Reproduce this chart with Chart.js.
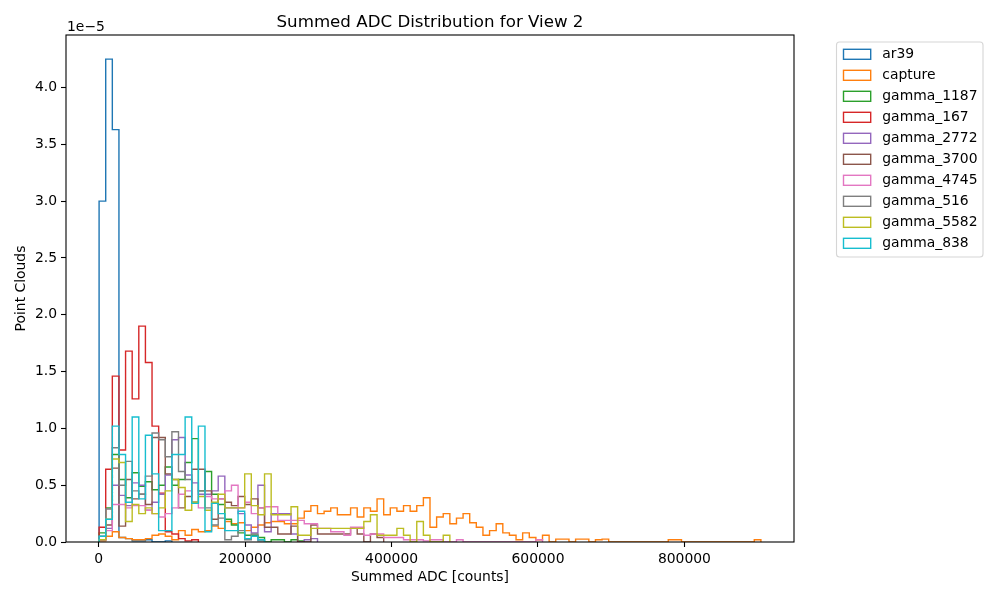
<!DOCTYPE html>
<html>
<head>
<meta charset="utf-8">
<title>Summed ADC Distribution for View 2</title>
<script src="https://cdn.jsdelivr.net/npm/chart.js@4/dist/chart.umd.min.js"></script>
<style>
  html, body { margin: 0; padding: 0; background: #fff; }
  #wrap { width: 1000px; height: 600px; }
</style>
</head>
<body>
<div id="wrap"><canvas id="graph" width="1000" height="600"></canvas></div>
<script>
// histogram bins (counts)
var binStart = 500;
var binWidth = 9040;

// series names and colours (matplotlib tab10)
var seriesNames = ['ar39', 'capture', 'gamma_1187', 'gamma_167', 'gamma_2772',
  'gamma_3700', 'gamma_4745', 'gamma_516', 'gamma_5582', 'gamma_838'];
var seriesColors = ['#1f77b4', '#ff7f0e', '#2ca02c', '#d62728', '#9467bd',
  '#8c564b', '#e377c2', '#7f7f7f', '#bcbd22', '#17becf'];

// bin heights, in units of 1e-5, bin 0 first
var ar39 = [3.00, 4.25, 3.63, 0.04, 0.03, 0.01, 0.01, 0.02, 0.00, 0.00, 0.01];

var capture = [0.01, 0.05, 0.09, 0.04, 0.03, 0.02, 0.02, 0.03, 0.06, 0.07,
  0.05, 0.02, 0.10, 0.06, 0.11, 0.09, 0.10, 0.14, 0.12, 0.18,
  0.16, 0.17, 0.10, 0.13, 0.15, 0.17, 0.18, 0.18, 0.16, 0.16,
  0.21, 0.27, 0.32, 0.25, 0.27, 0.30, 0.24, 0.24, 0.30, 0.22,
  0.30, 0.27, 0.38, 0.24, 0.30, 0.27, 0.32, 0.27, 0.32, 0.39,
  0.13, 0.22, 0.25, 0.16, 0.21, 0.25, 0.17, 0.13, 0.06, 0.10,
  0.16, 0.08, 0.06, 0.02, 0.08, 0.04, 0.02, 0.06, 0.00, 0.025,
  0.025, 0.00, 0.025, 0.025, 0.00, 0.02, 0.025, 0.00, 0.00, 0.00,
  0.00, 0.00, 0.00, 0.00, 0.00, 0.00, 0.02, 0.02, 0.00, 0.00,
  0.00, 0.00, 0.00, 0.00, 0.00, 0.00, 0.00, 0.00, 0.00, 0.02];

var gamma_1187 = [0.08, 0.30, 0.77, 0.55, 0.39, 0.61, 0.49, 0.53, 0.46, 0.50,
  0.66, 0.50, 0.55, 0.70, 0.91, 0.45, 0.62, 0.42, 0.33, 0.20,
  0.15, 0.08, 0.06, 0.06, 0.04, 0.00, 0.02, 0.02, 0.00, 0.02, 0.01];

var gamma_167 = [0.13, 0.64, 1.46, 0.81, 1.68, 1.26, 1.90, 1.58, 1.02, 0.43,
  0.09, 0.07, 0.03, 0.01, 0.02];

var gamma_2772 = [0.02, 0.12, 0.50, 0.41, 0.32, 0.52, 0.50, 0.28, 0.35, 0.42,
  0.59, 0.90, 0.92, 0.59, 0.52, 0.42, 0.42, 0.45, 0.58, 0.30,
  0.30, 0.25, 0.15, 0.08, 0.50, 0.09, 0.25, 0.25, 0.25, 0.07,
  0.00, 0.02, 0.03];

var gamma_3700 = [0.02, 0.15, 0.65, 0.14, 0.55, 0.38, 0.42, 0.33, 0.92, 0.92,
  0.60, 0.55, 0.30, 0.40, 0.64, 0.64, 0.45, 0.20, 0.38, 0.35,
  0.32, 0.40, 0.33, 0.38, 0.30, 0.13, 0.13, 0.07, 0.07, 0.14,
  0.00, 0.00, 0.15, 0.07, 0.07, 0.07, 0.07, 0.07, 0.12, 0.07,
  0.00, 0.07, 0.04];

var gamma_4745 = [0.02, 0.10, 0.33, 0.33, 0.30, 0.32, 0.32, 0.28, 0.25, 0.22,
  0.25, 0.30, 0.42, 0.45, 0.35, 0.30, 0.40, 0.38, 0.38, 0.45,
  0.50, 0.30, 0.35, 0.25, 0.30, 0.31, 0.31, 0.19, 0.19, 0.19,
  0.19, 0.16, 0.16, 0.12, 0.12, 0.09, 0.09, 0.06, 0.13, 0.13,
  0.06, 0.07, 0.07, 0.04, 0.04, 0.04, 0.02, 0.02, 0.02, 0.01,
  0.02, 0.02, 0.00, 0.00, 0.02, 0.00, 0.00, 0.00, 0.00, 0.00,
  0.00, 0.00, 0.00, 0.00, 0.00, 0.00, 0.02];

var gamma_516 = [0.05, 0.29, 0.83, 0.50, 0.71, 0.45, 0.42, 0.58, 0.96, 0.90,
  0.75, 0.97, 0.62, 0.55, 0.35, 0.45, 0.30, 0.15, 0.21, 0.02,
  0.05, 0.10, 0.02, 0.07, 0.01];

var gamma_5582 = [0.02, 0.20, 0.73, 0.70, 0.18, 0.33, 0.25, 0.30, 0.25, 0.30,
  0.45, 0.55, 0.48, 0.28, 0.35, 0.40, 0.28, 0.35, 0.42, 0.30,
  0.30, 0.30, 0.60, 0.32, 0.24, 0.60, 0.24, 0.24, 0.24, 0.31,
  0.06, 0.06, 0.12, 0.12, 0.12, 0.12, 0.12, 0.12, 0.12, 0.12,
  0.18, 0.24, 0.06, 0.06, 0.06, 0.12, 0.06, 0.00, 0.18, 0.06,
  0.00, 0.00, 0.06];

var gamma_838 = [0.05, 0.20, 1.02, 0.77, 0.35, 1.10, 0.38, 0.94, 0.60, 0.10,
  0.10, 0.77, 0.77, 1.10, 0.34, 1.02, 0.09, 0.34, 0.25, 0.10,
  0.10, 0.27, 0.03, 0.05, 0.02];

var seriesValues = [ar39, capture, gamma_1187, gamma_167, gamma_2772,
  gamma_3700, gamma_4745, gamma_516, gamma_5582, gamma_838];

// axis ticks
var xTicks = [0, 200000, 400000, 600000, 800000];
var yTicks = [0.0, 0.5, 1.0, 1.5, 2.0, 2.5, 3.0, 3.5, 4.0];

var FONT = "'DejaVu Sans', 'Liberation Sans', sans-serif";

// outline of a step histogram: up from 0, across each bin, down to 0
function stepPoints(vals) {
  var pts = [{x: binStart, y: 0}];
  for (var k = 0; k < vals.length; k++) {
    pts.push({x: binStart + k * binWidth, y: vals[k]});
  }
  pts.push({x: binStart + vals.length * binWidth, y: 0});
  return pts;
}

// frame, title, offset text and legend like matplotlib
var decorations = {
  id: 'decorations',
  afterDraw: function(chart) {
    var ctx = chart.ctx;
    var a = chart.chartArea;
    ctx.save();
    ctx.strokeStyle = '#000';
    ctx.lineWidth = 1.1;
    ctx.strokeRect(a.left, a.top, a.right - a.left, a.bottom - a.top);

    ctx.fillStyle = '#000';
    ctx.textBaseline = 'alphabetic';
    ctx.textAlign = 'center';
    ctx.font = '16.67px ' + FONT;
    ctx.fillText('Summed ADC Distribution for View 2', (a.left + a.right) / 2, 27);

    ctx.textAlign = 'left';
    ctx.font = '13.9px ' + FONT;
    ctx.fillText('1e\u22125', a.left + 1, 31);

    // legend box
    var lx = 836.5, ly = 42, lw = 146.5, lh = 215, r = 3;
    ctx.beginPath();
    ctx.moveTo(lx + r, ly);
    ctx.lineTo(lx + lw - r, ly);
    ctx.arcTo(lx + lw, ly, lx + lw, ly + r, r);
    ctx.lineTo(lx + lw, ly + lh - r);
    ctx.arcTo(lx + lw, ly + lh, lx + lw - r, ly + lh, r);
    ctx.lineTo(lx + r, ly + lh);
    ctx.arcTo(lx, ly + lh, lx, ly + lh - r, r);
    ctx.lineTo(lx, ly + r);
    ctx.arcTo(lx, ly, lx + r, ly, r);
    ctx.closePath();
    ctx.fillStyle = '#fff';
    ctx.fill();
    ctx.strokeStyle = '#d6d6d6';
    ctx.lineWidth = 1.1;
    ctx.stroke();

    ctx.textBaseline = 'middle';
    for (var i = 0; i < seriesNames.length; i++) {
      var y = 49.3 + i * 21;
      ctx.strokeStyle = seriesColors[i];
      ctx.lineWidth = 1.4;
      ctx.strokeRect(843.5, y, 27.2, 10);
      ctx.fillStyle = '#000';
      ctx.fillText(seriesNames[i], 882.3, y + 5);
    }
    ctx.restore();
  }
};

document.addEventListener("DOMContentLoaded", function() {
  var ctx = document.getElementById('graph').getContext('2d');
  Chart.defaults.color = '#000';
  Chart.defaults.font.family = FONT;
  Chart.defaults.font.size = 13.9;

  var datasets = seriesNames.map(function(name, i) {
    return {
      label: name,
      data: stepPoints(seriesValues[i]),
      borderColor: seriesColors[i],
      backgroundColor: 'transparent',
      borderWidth: 1.4,
      pointRadius: 0,
      fill: false,
      stepped: 'before',
      tension: 0,
      order: seriesNames.length - 1 - i // later series on top
    };
  });

  new Chart(ctx, {
    type: 'line',
    data: { datasets: datasets },
    plugins: [decorations],
    options: {
      responsive: false,
      animation: false,
      layout: { padding: { left: 0, right: 206, top: 35, bottom: 0 } },
      plugins: {
        legend: { display: false },
        tooltip: { enabled: false },
        title: { display: false }
      },
      scales: {
        x: {
          type: 'linear',
          min: -44700,
          max: 949700,
          afterFit: function(s) { s.height = 58; },
          afterBuildTicks: function(s) {
            s.ticks = xTicks.map(function(v) { return {value: v}; });
          },
          ticks: {
            maxRotation: 0,
            padding: 4,
            callback: function(v) { return String(v); }
          },
          grid: { drawOnChartArea: false, tickLength: 5, tickColor: '#000', tickWidth: 1.1 },
          border: { display: false },
          title: {
            display: true,
            text: 'Summed ADC [counts]',
            padding: { top: 4, bottom: 14.7 }
          }
        },
        y: {
          type: 'linear',
          min: 0,
          max: 4.4625,
          afterFit: function(s) { s.width = 66; },
          afterBuildTicks: function(s) {
            s.ticks = yTicks.map(function(v) { return {value: v}; });
          },
          ticks: {
            padding: 4,
            callback: function(v) { return v.toFixed(1); }
          },
          grid: { drawOnChartArea: false, tickLength: 5, tickColor: '#000', tickWidth: 1.1 },
          border: { display: false },
          title: {
            display: true,
            text: 'Point Clouds',
            padding: { top: 12.7, bottom: 4 }
          }
        }
      }
    }
  });
});
</script>
</body>
</html>
